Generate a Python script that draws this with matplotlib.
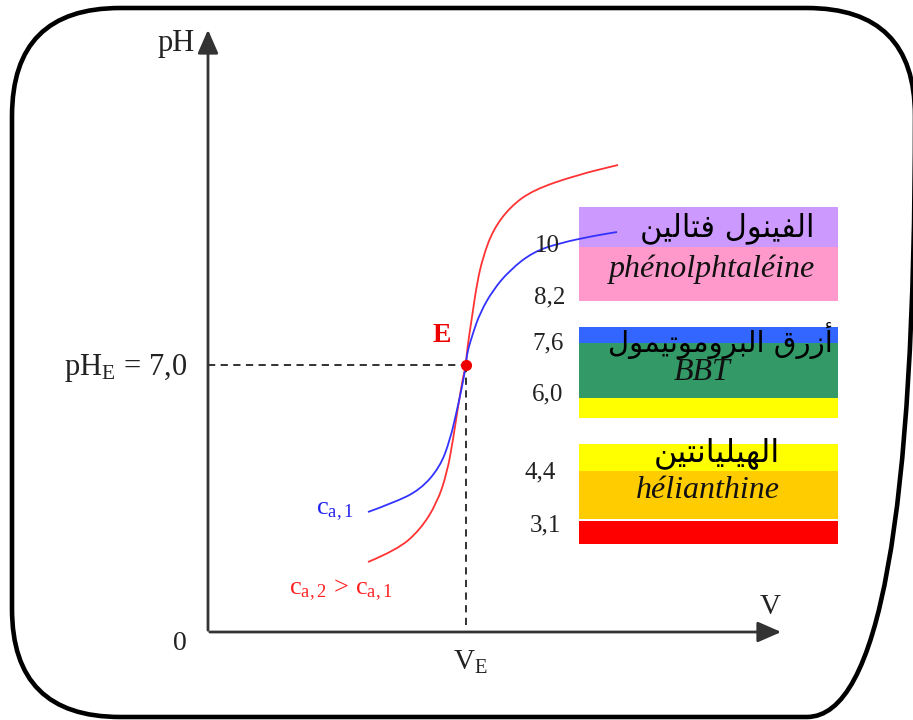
import matplotlib
matplotlib.use('Agg')
import matplotlib.pyplot as plt
from matplotlib.patches import FancyBboxPatch, Rectangle, PathPatch
from matplotlib.path import Path

plt.rcParams['mathtext.fontset'] = 'custom'
plt.rcParams['mathtext.rm'] = 'Liberation Serif'
plt.rcParams['mathtext.it'] = 'Liberation Serif:italic'
plt.rcParams['mathtext.bf'] = 'Liberation Serif:bold'

SERIF = 'Liberation Serif'
ARABIC = 'DejaVu Sans'

# --- curve data, in drawing units (x = volume, y = pH, both as drawn) ---
blue_v = [368, 393, 420, 440, 450, 457, 462, 466, 467, 473, 480, 493, 510, 533, 560, 593, 617]
blue_ph = [512, 503, 490, 467, 440, 410, 387, 365, 353, 333, 313, 290, 270, 252, 243, 236, 232]
red_v = [368, 397, 420, 437, 447, 453, 458, 463, 466, 467, 472, 477, 483, 493, 510, 533, 577, 618]
red_ph = [562, 550, 530, 503, 473, 440, 407, 377, 365, 350, 317, 283, 257, 230, 207, 190, 175, 165]

equiv_v = 466
equiv_ph = 365

# --- indicator zones: name (arabic), name (french), bands (top, bottom, colour) ---
indicators = [
    ('الفينول فتالين', 'phénolphtaléine',
     [(207, 247, '#CC99FF'), (247, 301, '#FF99CC')]),
    ('أزرق البروموتيمول', 'BBT',
     [(327, 343, '#3366FF'), (343, 398, '#339966'), (398, 418, '#FFFF00')]),
    ('الهيليانتين', 'hélianthine',
     [(444, 471, '#FFFF00'), (471, 519, '#FFCC00'), (521, 544, '#FF0000')]),
]
arabic_pos = [(727, 228), (720, 341), (717, 453)]
arabic_size = [22, 21, 23]
french_pos = [(712, 269), (702, 373), (708, 491)]

zone_labels = ['10', '8,2', '7,6', '6,0', '4,4', '3,1']
zone_label_pos = [(547, 246), (550, 297), (548, 343), (548, 394), (540, 472), (545, 525)]

# arabic shaping (matplotlib has no bidi / joining support)
FORMS = {
    'ا': (0xFE8D, 0xFE8E), 'أ': (0xFE83, 0xFE84), 'ز': (0xFEAF, 0xFEB0),
    'ر': (0xFEAD, 0xFEAE), 'و': (0xFEED, 0xFEEE),
    'ل': (0xFEDD, 0xFEDE, 0xFEDF, 0xFEE0), 'ف': (0xFED1, 0xFED2, 0xFED3, 0xFED4),
    'ي': (0xFEF1, 0xFEF2, 0xFEF3, 0xFEF4), 'ن': (0xFEE5, 0xFEE6, 0xFEE7, 0xFEE8),
    'ت': (0xFE95, 0xFE96, 0xFE97, 0xFE98), 'ب': (0xFE8F, 0xFE90, 0xFE91, 0xFE92),
    'م': (0xFEE1, 0xFEE2, 0xFEE3, 0xFEE4), 'ق': (0xFED5, 0xFED6, 0xFED7, 0xFED8),
    'ه': (0xFEE9, 0xFEEA, 0xFEEB, 0xFEEC),
}


def shape_arabic(text):
    out = []
    for i, ch in enumerate(text):
        if ch not in FORMS:
            out.append(ch)
            continue
        f = FORMS[ch]
        prev = text[i - 1] if i > 0 else ''
        nxt = text[i + 1] if i + 1 < len(text) else ''
        joins_prev = prev in FORMS and len(FORMS[prev]) == 4
        joins_next = len(f) == 4 and nxt in FORMS
        if joins_prev and joins_next:
            c = f[3]
        elif joins_prev:
            c = f[1]
        elif joins_next:
            c = f[2]
        else:
            c = f[0]
        out.append(chr(c))
    return ''.join(reversed(out))


def smooth_curve(xs, ys, **kw):
    # quadratic bezier through the midpoints of the read points
    pts = list(zip(xs, ys))
    verts = [pts[0]]
    codes = [Path.MOVETO]
    for i in range(1, len(pts) - 1):
        mid = ((pts[i][0] + pts[i + 1][0]) / 2, (pts[i][1] + pts[i + 1][1]) / 2)
        verts += [pts[i], mid]
        codes += [Path.CURVE3, Path.CURVE3]
    verts.append(pts[-1])
    codes.append(Path.LINETO)
    return PathPatch(Path(verts, codes), fill=False, **kw)


fig = plt.figure(figsize=(9.13, 7.2), dpi=100)
ax = fig.add_axes([0, 0, 1, 1])
ax.set_xlim(0, 913)
ax.set_ylim(720, 0)
ax.axis('off')

# rounded frame
frame = FancyBboxPatch((12, 8), 903, 709, boxstyle='round,pad=0,rounding_size=108',
                       fill=False, ec='black', lw=3.3, clip_on=False)
ax.add_patch(frame)

# axes arrows
arrow = dict(arrowstyle='-|>,head_length=0.8,head_width=0.35',
             color='#333333', lw=2, mutation_scale=18)
ax.annotate('', xy=(208, 27), xytext=(208, 633), arrowprops=arrow)
ax.annotate('', xy=(784, 632), xytext=(207, 632), arrowprops=arrow)

# dashed guides
ax.plot([208, equiv_v], [equiv_ph, equiv_ph], color='#222222', lw=1.3, ls=(0, (4, 3)))
ax.plot([equiv_v, equiv_v], [equiv_ph, 630], color='#222222', lw=1.3, ls=(0, (4, 3)))

# indicator bands
for (ar, fr, bands), apos, asz, fpos in zip(indicators, arabic_pos, arabic_size, french_pos):
    for top, bottom, col in bands:
        ax.add_patch(Rectangle((579, top), 259, bottom - top, color=col, lw=0))
    ax.text(apos[0], apos[1], shape_arabic(ar), family=ARABIC, fontsize=asz,
            ha='center', va='center', color='black')
    ax.text(fpos[0], fpos[1], fr, family=SERIF, style='italic', fontsize=23,
            ha='center', va='center', color='#111111')

for lab, (x, y) in zip(zone_labels, zone_label_pos):
    ax.text(x, y, lab, family=SERIF, fontsize=18, ha='center', va='center', color='#222222')

# titration curves
ax.add_patch(smooth_curve(red_v, red_ph, ec='#FF3333', lw=1.3))
ax.add_patch(smooth_curve(blue_v, blue_ph, ec='#3333FF', lw=1.3))
ax.plot([equiv_v], [equiv_ph], 'o', color='#EE0000', ms=7)

# labels
ax.text(176, 43, 'pH', family=SERIF, fontsize=22, ha='center', va='center', color='#222222')
ax.text(188, 368, r'$\mathrm{pH_E\,=\,7{,}0}$', fontsize=22, ha='right', va='center', color='#222222')
ax.text(180, 643, '0', family=SERIF, fontsize=20, ha='center', va='center', color='#222222')
ax.text(470, 662, r'$\mathrm{V_E}$', fontsize=21, ha='center', va='center', color='#222222')
ax.text(770, 607, 'V', family=SERIF, fontsize=21, ha='center', va='center', color='#222222')
ax.text(442, 335, 'E', family=SERIF, weight='bold', fontsize=20, ha='center', va='center', color='#EE0000')
ax.text(335, 510, r'$\mathrm{c_{a,1}}$', fontsize=19, ha='center', va='center', color='#2222EE')
ax.text(341, 590, r'$\mathrm{c_{a,2}\,>\,c_{a,1}}$', fontsize=19, ha='center', va='center', color='#FF2222')

fig.savefig('out.png', dpi=100)
